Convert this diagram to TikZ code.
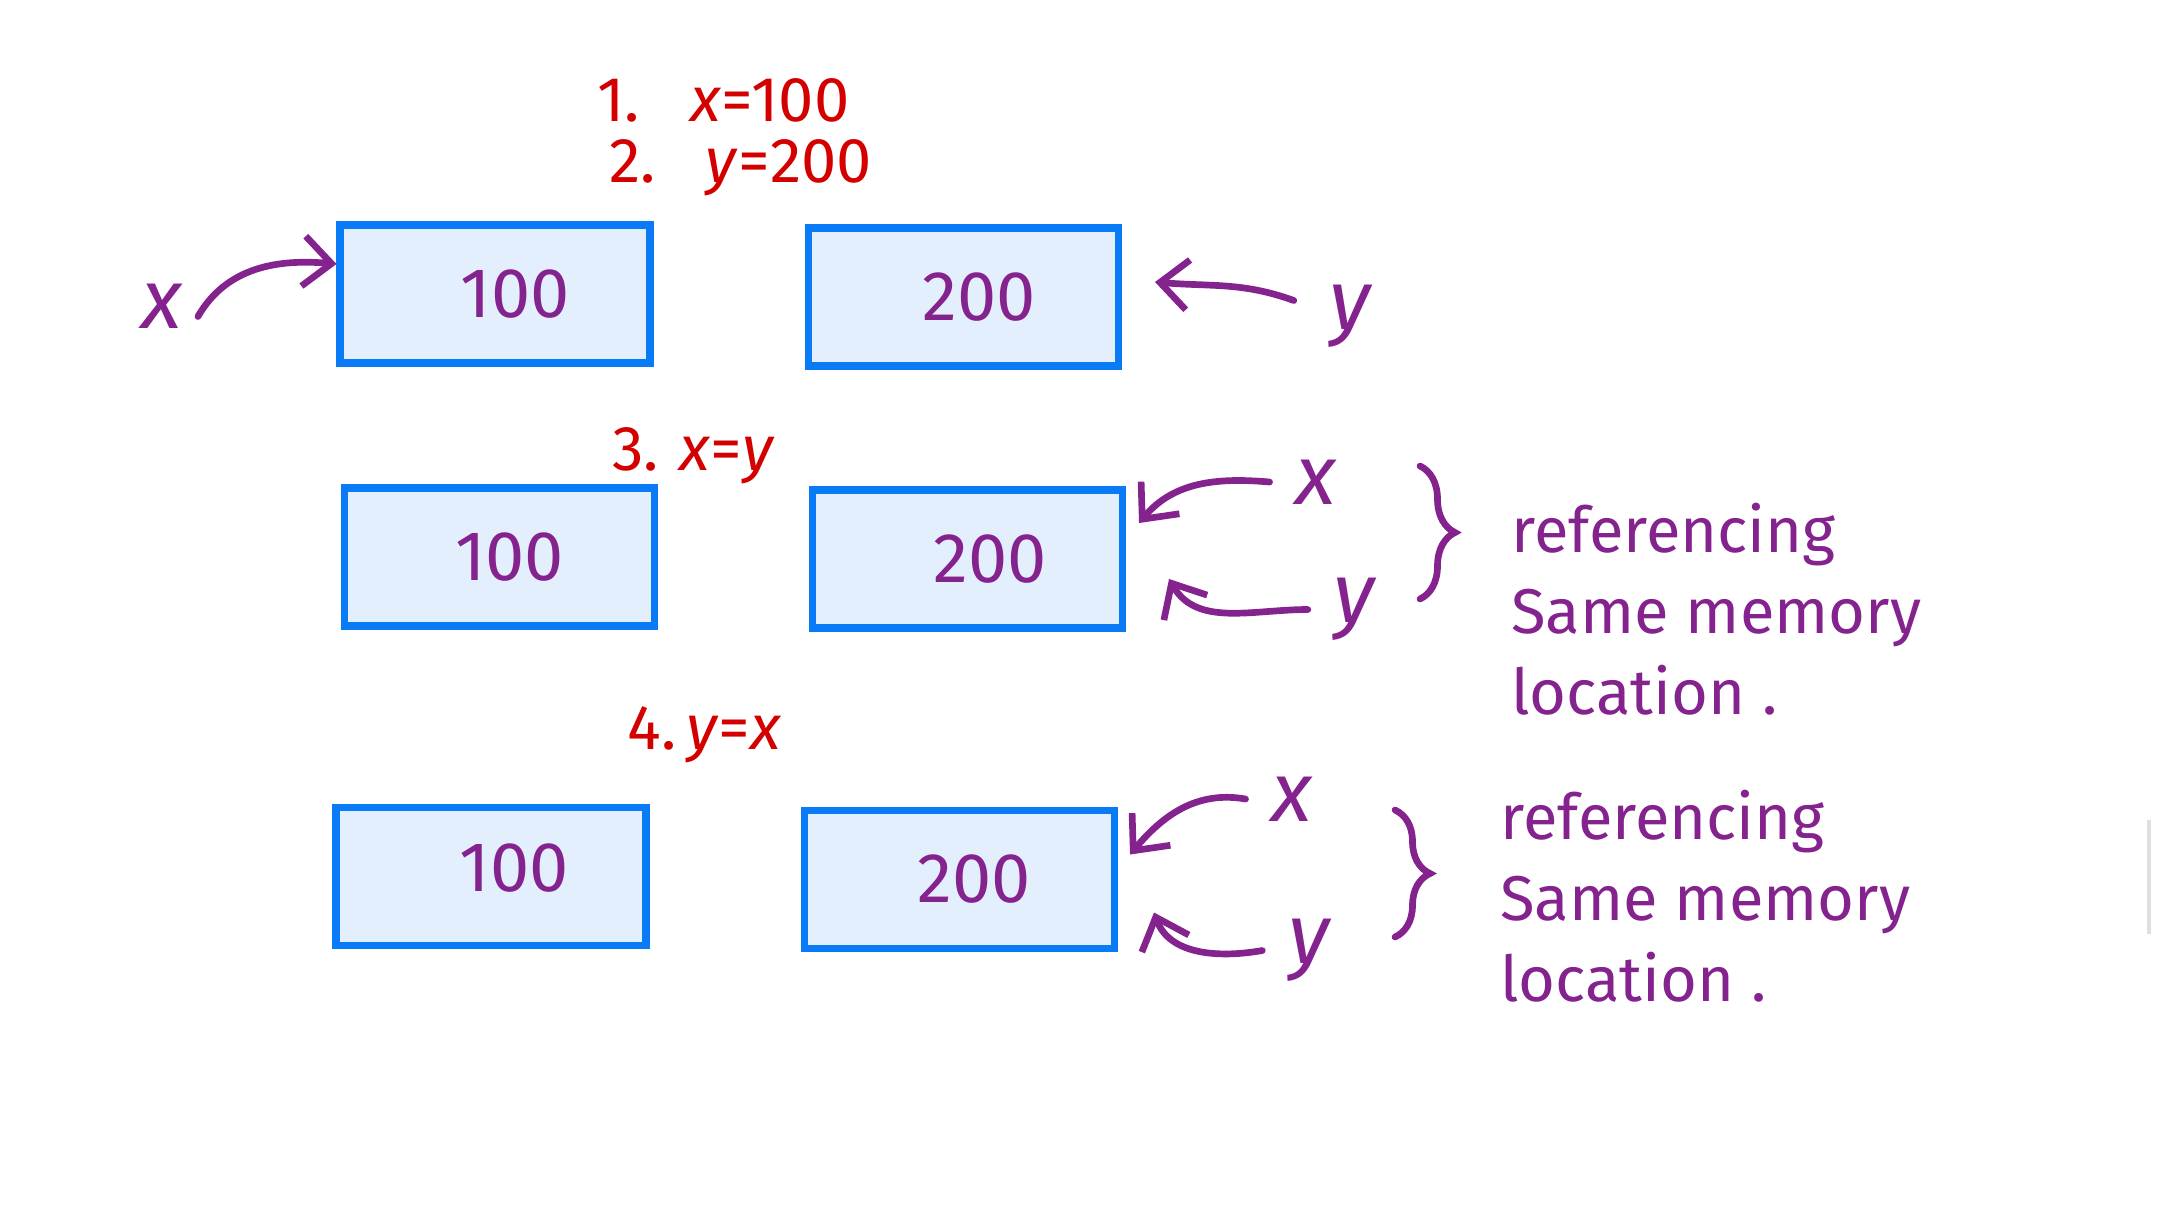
\documentclass[tikz,border=0pt]{standalone}
\usepackage{fontspec}
\setmainfont{Fira Sans}
\usetikzlibrary{arrows.meta,decorations.pathreplacing}

\definecolor{boxblue}{HTML}{0A7BF7}
\definecolor{boxfill}{HTML}{E4EFFD}
\definecolor{inkpurple}{HTML}{84228E}
\definecolor{inkred}{HTML}{D40000}

\begin{document}
\begin{tikzpicture}[
  x=1cm, y=1cm,
  membox/.style={draw=boxblue, fill=boxfill, line width=2pt, minimum width=3.1cm, minimum height=1.38cm, inner sep=0pt},
  memval/.style={text=inkpurple, font=\fontsize{20}{24}\selectfont},
  varname/.style={text=inkpurple, font=\fontsize{24}{28}\selectfont\itshape, inner sep=2.5mm},
  steplabel/.style={text=inkred, font=\fontsize{18}{22}\selectfont, anchor=west},
  notetext/.style={text=inkpurple, font=\fontsize{18}{23}\selectfont, align=left, anchor=west},
  pointer/.style={-{Straight Barb[length=2.8mm,width=5mm]}, draw=inkpurple, line width=1.9pt, line cap=round},
  groupbrace/.style={draw=inkpurple, line width=1.9pt, line cap=round, decorate, decoration={brace, amplitude=3.5mm}}
]
  \useasboundingbox (0,0) rectangle (21.6,12.08);

  % steps
  \node[steplabel] (s1) at (5.85,11.08) {1.\hspace{5mm}\textit{x}=100};
  \node[steplabel] (s2) at (5.97,10.40) {2.\hspace{5mm}\textit{y}=200};
  \node[steplabel] (s3) at (6.0,7.52) {3.\hspace{2mm}\textit{x}=\textit{y}};
  \node[steplabel] (s4) at (6.15,4.73) {4.\hspace{1mm}\textit{y}=\textit{x}};

  % after 1. and 2.
  \node[membox] (b1a) at (4.95,9.14) {};
  \node[membox] (b1b) at (9.635,9.11) {};
  \node[memval] (v1a) at ([xshift=2mm]b1a.center) {100};
  \node[memval] (v1b) at ([xshift=1.6mm]b1b.center) {200};
  \node[varname] (xa) at (1.62,9.015) {x};
  \node[varname] (ya) at (13.5,8.915) {y};
  \draw[pointer] ([xshift=-1mm,yshift=-1mm]xa.east) to[out=60, in=175] ([yshift=3mm]b1a.west);
  \draw[pointer] ([xshift=-1mm,yshift=1.6mm]ya.west) to[out=160, in=-5] ([xshift=3.3mm,yshift=1.5mm]b1b.east);

  % after 3.
  \node[membox] (b2a) at (4.995,6.51) {};
  \node[membox] (b2b) at (9.675,6.49) {};
  \node[memval] (v2a) at ([xshift=1mm]b2a.center) {100};
  \node[memval] (v2b) at ([xshift=2.3mm]b2b.center) {200};
  \node[varname] (xb) at (13.155,7.26) {x};
  \node[varname] (yb) at (13.54,5.985) {y};
  \draw[pointer] (xb.west) to[out=175, in=50] ([xshift=1.3mm,yshift=3.6mm]b2b.east);
  \draw[pointer] (yb.west) to[out=180, in=-60] ([xshift=4.3mm,yshift=-2mm]b2b.east);
  \draw[groupbrace] (14.2,7.42) -- (14.2,6.09);
  \node[notetext] (n2) at (14.99,5.99) {referencing\\Same memory\\location .};

  % after 4.
  \node[membox] (b3a) at (4.91,3.315) {};
  \node[membox] (b3b) at (9.595,3.285) {};
  \node[memval] (v3a) at ([xshift=2.3mm,yshift=0.8mm]b3a.center) {100};
  \node[memval] (v3b) at ([xshift=1.5mm]b3b.center) {200};
  \node[varname] (xc) at (12.915,4.09) {x};
  \node[varname] (yc) at (13.085,2.575) {y};
  \draw[pointer] (xc.west) to[out=170, in=50] ([xshift=1.2mm,yshift=2.5mm]b3b.east);
  \draw[pointer] (yc.west) to[out=190, in=-70] ([xshift=3.6mm,yshift=-3.3mm]b3b.east);
  \draw[groupbrace] (13.95,3.98) -- (13.95,2.71);
  \node[notetext] (n3) at (14.88,3.12) {referencing\\Same memory\\location .};

  \draw[black!12, line width=1.2pt] (21.49,2.74) -- (21.49,3.88);
\end{tikzpicture}
\end{document}
